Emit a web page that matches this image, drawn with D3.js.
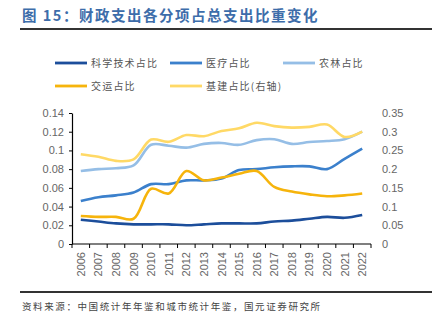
<!DOCTYPE html>
<html lang="zh">
<head>
<meta charset="utf-8" />
<script src="https://cdn.jsdelivr.net/npm/d3@7"></script>
<style>
  body { margin: 0; background: #fff; }
  svg text { font-family: "Liberation Sans", Arial, sans-serif; }
  .cjk { font-family: "Noto Sans CJK SC", sans-serif; }
</style>
</head>
<body>
<svg id="chart" width="432" height="324"></svg>
<script>
// years on the x axis
var years = ["2006","2007","2008","2009","2010","2011","2012","2013","2014",
             "2015","2016","2017","2018","2019","2020","2021","2022"];

// shares of total fiscal spending (left axis)
var science   = [0.026,0.024,0.022,0.021,0.021,0.021,0.020,0.021,0.022,0.022,0.022,0.024,0.025,0.027,0.029,0.028,0.031];
var medical   = [0.046,0.050,0.052,0.055,0.064,0.064,0.068,0.068,0.070,0.079,0.080,0.082,0.083,0.083,0.080,0.091,0.102];
var farming   = [0.078,0.080,0.081,0.084,0.106,0.105,0.103,0.107,0.108,0.106,0.111,0.112,0.107,0.109,0.110,0.112,0.120];
var transport = [0.030,0.029,0.029,0.027,0.059,0.054,0.078,0.068,0.071,0.075,0.078,0.061,0.056,0.053,0.051,0.052,0.054];
// infrastructure share (right axis)
var infra     = [0.240,0.233,0.222,0.226,0.279,0.273,0.291,0.288,0.302,0.309,0.324,0.315,0.311,0.313,0.319,0.286,0.300];

var leftTicks = [0,0.02,0.04,0.06,0.08,0.1,0.12,0.14];
var rightTicks = [0,0.05,0.1,0.15,0.2,0.25,0.3,0.35];

var series = [
  { name: "科学技术占比", values: science, color: "#1c4e9b", axis: "L" },
  { name: "医疗占比", values: medical, color: "#3b80cc", axis: "L" },
  { name: "农林占比", values: farming, color: "#95bee6", axis: "L" },
  { name: "交运占比", values: transport, color: "#f6b40c", axis: "L" },
  { name: "基建占比(右轴)", values: infra, color: "#ffd966", axis: "R" }
];

var svg = d3.select("#chart");

// title and rules
svg.append("text").attr("class", "cjk")
  .attr("x", 22).attr("y", 21)
  .attr("fill", "#3d6daa").attr("font-size", 14.5).attr("font-weight", "bold")
  .attr("letter-spacing", 1.5)
  .text("图 15：财政支出各分项占总支出比重变化");
svg.append("line").attr("x1", 20).attr("x2", 432).attr("y1", 29).attr("y2", 29)
  .attr("stroke", "#333").attr("stroke-width", 1.8);
svg.append("line").attr("x1", 20).attr("x2", 432).attr("y1", 292).attr("y2", 292)
  .attr("stroke", "#333").attr("stroke-width", 1.8);
svg.append("text").attr("class", "cjk")
  .attr("x", 22).attr("y", 310)
  .attr("fill", "#444").attr("font-size", 9.5).attr("letter-spacing", 1.6)
  .text("资料来源：中国统计年年鉴和城市统计年鉴，国元证券研究所");

// legend
var legendPos = [[55, 63], [170, 63], [283, 63], [55, 86], [170, 86]];
series.forEach(function (s, i) {
  var p = legendPos[i];
  svg.append("line").attr("x1", p[0]).attr("x2", p[0] + 32)
    .attr("y1", p[1]).attr("y2", p[1])
    .attr("stroke", s.color).attr("stroke-width", 2.8);
  svg.append("text").attr("class", "cjk")
    .attr("x", p[0] + 36).attr("y", p[1] + 3.5)
    .attr("fill", "#555").attr("font-size", 10).attr("letter-spacing", 1.2)
    .text(s.name);
});

// scales
var x = d3.scaleBand().domain(years).range([72, 371]);
var yL = d3.scaleLinear().domain([0, 0.14]).range([244, 113]);
var yR = d3.scaleLinear().domain([0, 0.35]).range([244, 113]);

// left axis
var gL = svg.append("g").attr("transform", "translate(72,0)")
  .call(d3.axisLeft(yL).tickValues(leftTicks).tickSize(3).tickSizeOuter(0)
    .tickFormat(function (d) { return d === 0 ? "0" : String(+d.toFixed(2)); }));
gL.select(".domain").attr("stroke", "#000").attr("stroke-width", 1.2);
gL.selectAll("text").attr("fill", "#666").attr("font-size", 11).attr("x", -8);

// right axis (labels only)
var gR = svg.append("g").attr("transform", "translate(371,0)")
  .call(d3.axisRight(yR).tickValues(rightTicks).tickSize(0)
    .tickFormat(function (d) { return d === 0 ? "0" : String(+d.toFixed(2)); }));
gR.select(".domain").remove();
gR.selectAll("text").attr("fill", "#666").attr("font-size", 11).attr("x", 11);

// x axis with ticks on band edges
var gX = svg.append("g").attr("transform", "translate(0,244)");
gX.append("line").attr("x1", 72).attr("x2", 371).attr("y1", 0).attr("y2", 0)
  .attr("stroke", "#000").attr("stroke-width", 1.2);
var edges = years.map(function (d) { return x(d); }).concat([x.range()[1]]);
gX.selectAll(".tk").data(edges).enter().append("line")
  .attr("x1", function (d) { return d; }).attr("x2", function (d) { return d; })
  .attr("y1", 0).attr("y2", 4).attr("stroke", "#000").attr("stroke-width", 1);
gX.selectAll(".yr").data(years).enter().append("text")
  .attr("transform", function (d) {
    return "translate(" + (x(d) + x.bandwidth() / 2 + 4) + ",8) rotate(-90)";
  })
  .attr("text-anchor", "end")
  .attr("fill", "#666").attr("font-size", 11)
  .text(function (d) { return d; });

// lines
series.forEach(function (s) {
  var yS = s.axis === "L" ? yL : yR;
  var line = d3.line()
    .x(function (d, i) { return x(years[i]) + x.bandwidth() / 2; })
    .y(function (d) { return yS(d); })
    .curve(d3.curveCatmullRom.alpha(0.5));
  svg.append("path").datum(s.values)
    .attr("d", line)
    .attr("fill", "none")
    .attr("stroke", s.color)
    .attr("stroke-width", 2.6)
    .attr("stroke-linejoin", "round");
});
</script>
</body>
</html>
